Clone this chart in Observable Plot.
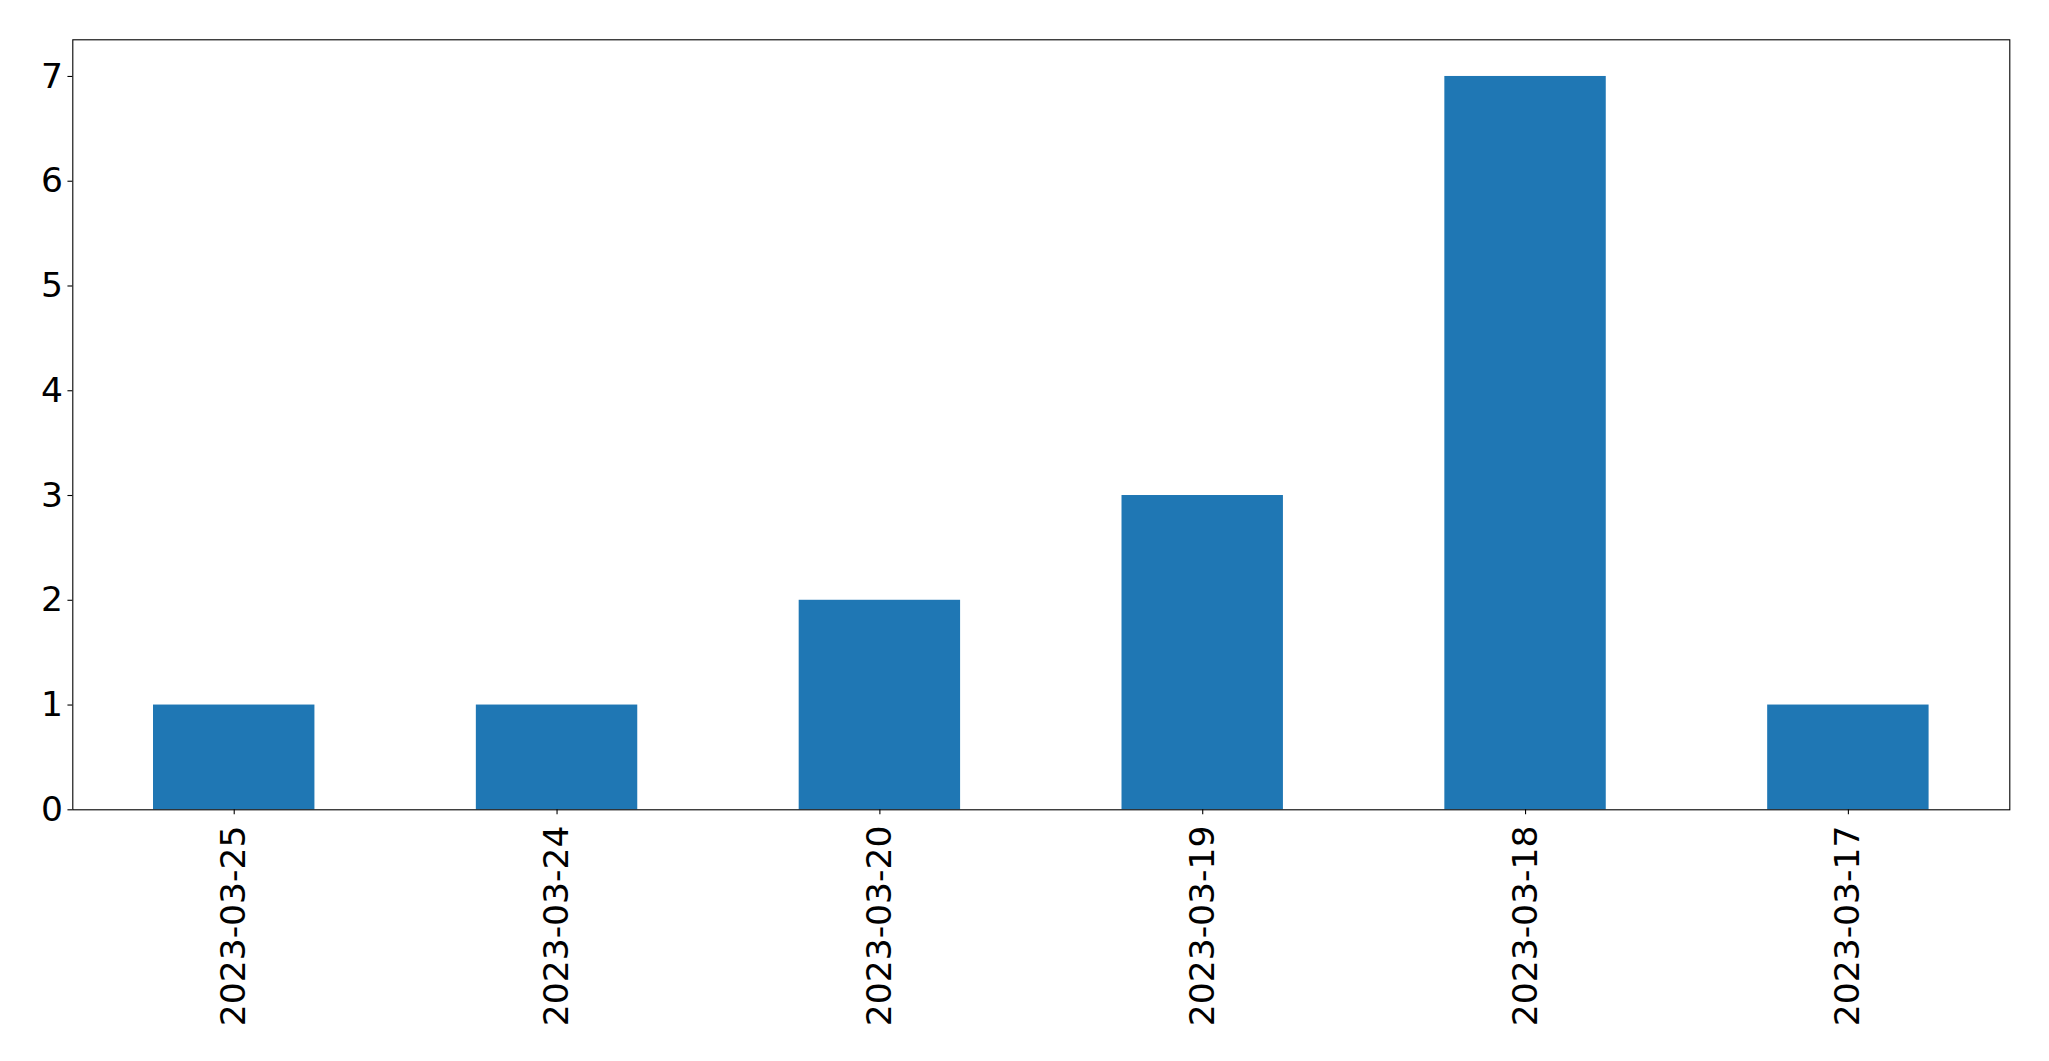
<!DOCTYPE html>
<html>
<head>
<meta charset="utf-8">
<script src="https://cdn.jsdelivr.net/npm/d3@7"></script>
<script src="https://cdn.jsdelivr.net/npm/@observablehq/plot@0.6"></script>
<style>
  html, body { margin: 0; padding: 0; background: #fff; }
  svg { display: block; }
</style>
</head>
<body>
<div id="chart"></div>
<script>
const dates = ["2023-03-25", "2023-03-24", "2023-03-20", "2023-03-19", "2023-03-18", "2023-03-17"];
const counts = [1, 1, 2, 3, 7, 1];
const yTicks = [0, 1, 2, 3, 4, 5, 6, 7];

const data = dates.map((d, i) => ({date: d, count: counts[i]}));

const chart = Plot.plot({
  width: 2049,
  height: 1061,
  marginLeft: 72.3,
  marginTop: 39.3,
  marginRight: 39.7,
  marginBottom: 251.7,
  style: {fontFamily: "DejaVu Sans", fontSize: "34.5px", color: "black", background: "white"},
  x: {domain: dates, paddingInner: 0.5, paddingOuter: 0.25, round: false, label: null},
  y: {domain: [0, 7.35], label: null},
  marks: [
    Plot.barY(data, {x: "date", y: "count", fill: "#1f77b4"}),
    Plot.axisY({ticks: yTicks, tickSize: 4.86, tickPadding: 5, fontSize: 34.5, label: null, stroke: "black", strokeWidth: 1.1}),
    Plot.axisX({tickSize: 4.86, tickPadding: 11, tickRotate: -90, fontSize: 34.5, label: null, stroke: "black", strokeWidth: 1.1}),
    Plot.frame({stroke: "black", strokeWidth: 1.1})
  ]
});
document.getElementById("chart").appendChild(chart);
</script>
</body>
</html>
